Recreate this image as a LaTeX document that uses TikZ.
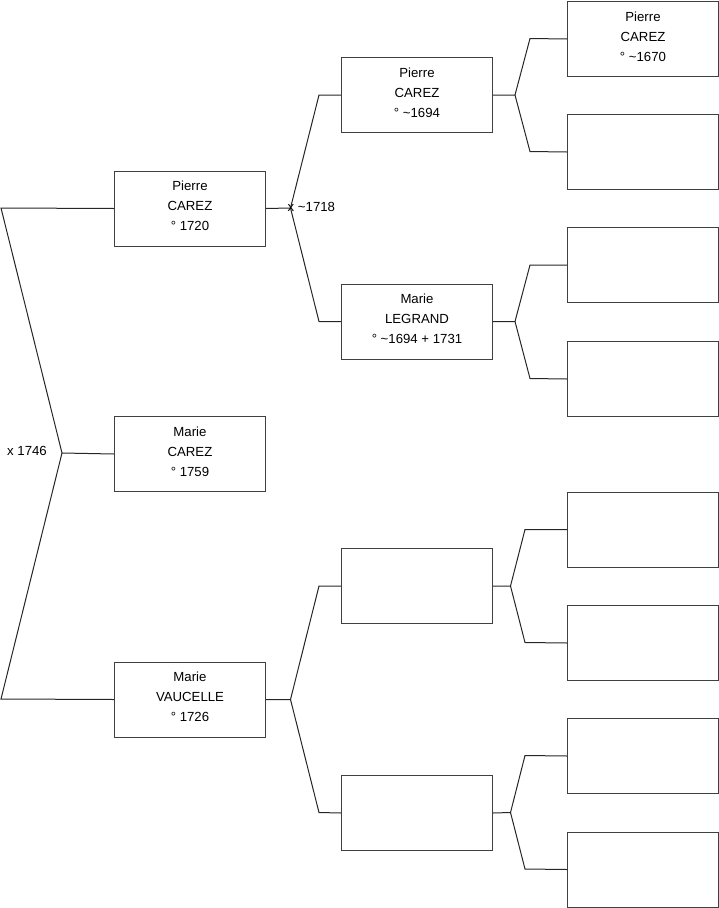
\documentclass[tikz,border=0pt]{standalone}
\usepackage{fontspec}
\setmainfont{Liberation Sans}
\begin{document}
\begin{tikzpicture}[x=1pt,y=-1pt,
  person/.style={draw=black!75, line width=1pt, minimum width=151pt, minimum height=75pt, inner sep=0pt, align=center, font=\fontsize{13.2}{20}\selectfont, anchor=north west, execute at end node={\rule[-5.5pt]{0pt}{5.5pt}}},
  link/.style={draw=black!85, line width=1pt},
  lbl/.style={font=\fontsize{13.2}{14}\selectfont, inner sep=0pt}]
\useasboundingbox (0,0) rectangle (719,908);
% generation 1
\node[person] (p1) at (114,170.5) {Pierre\\CAREZ\\° 1720};
\node[person] (p0) at (114,416) {Marie\\CAREZ\\° 1759};
\node[person] (p2) at (114,661.5) {Marie\\VAUCELLE\\° 1726};
% generation 2
\node[person] (g4) at (341,57) {Pierre\\CAREZ\\° \textasciitilde1694};
\node[person] (g5) at (341,283.5) {Marie\\LEGRAND\\° \textasciitilde1694 + 1731};
\node[person] (g6) at (341,548) {};
\node[person] (g7) at (341,775) {};
% generation 3
\node[person] (h8) at (567,1) {Pierre\\CAREZ\\° \textasciitilde1670};
\node[person] (h9) at (567,114) {};
\node[person] (h10) at (567,227) {};
\node[person] (h11) at (567,341) {};
\node[person] (h12) at (567,491.5) {};
\node[person] (h13) at (567,605) {};
\node[person] (h14) at (567,718) {};
\node[person] (h15) at (567,831.5) {};
% fork coordinates
\coordinate (fa) at (1,208);
\coordinate (fb) at (1,699);
\coordinate (f0) at (62,453);
\coordinate (f1) at (290.5,208);
\coordinate (f2) at (290.5,699.5);
\coordinate (f4) at (515,95);
\coordinate (f5) at (515,321.5);
\coordinate (f6) at (510.5,586);
\coordinate (f7) at (510.5,812.5);
% left fork
\draw[link] (p1.west) -- (fa) -- (f0) -- (p0.west);
\draw[link] (p2.west) -- (fb) -- (f0);
\node[lbl] (m0) at (27,451) {x 1746};
% gen1 -> gen2
\draw[link] (p1.east) -- (f1) -- (319,95) -- (g4.west);
\draw[link] (f1) -- (319,321.5) -- (g5.west);
\node[lbl, anchor=west] (m1) at (287.5,207) {x \textasciitilde1718};
\draw[link] (p2.east) -- (f2) -- (319,586) -- (g6.west);
\draw[link] (f2) -- (319,812.5) -- (g7.west);
% gen2 -> gen3
\draw[link] (g4.east) -- (f4) -- (530,38.5) -- (h8.west);
\draw[link] (f4) -- (530,151.5) -- (h9.west);
\draw[link] (g5.east) -- (f5) -- (530,265) -- (h10.west);
\draw[link] (f5) -- (530,378.5) -- (h11.west);
\draw[link] (g6.east) -- (f6) -- (525,529.5) -- (h12.west);
\draw[link] (f6) -- (525,642.5) -- (h13.west);
\draw[link] (g7.east) -- (f7) -- (525,755.5) -- (h14.west);
\draw[link] (f7) -- (525,869) -- (h15.west);
\end{tikzpicture}
\end{document}
